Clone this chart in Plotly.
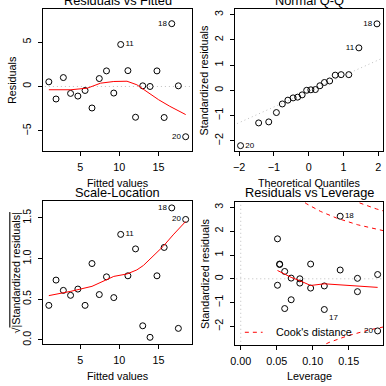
import numpy as np
import plotly.graph_objects as go

# ---------------- data ----------------
obs = list(range(1, 21))
fitted = [1.01, 1.93, 2.86, 3.78, 4.71, 5.63, 6.51, 7.44, 8.36, 9.29,
          10.17, 11.09, 12.06, 12.98, 13.91, 14.79, 15.71, 16.68, 17.52, 18.45]
residuals = [0.52, -1.41, 1.00, -0.78, -1.08, -0.45, -2.42, 0.89, 1.75, -0.74,
             4.72, 1.78, -3.46, 0.07, 0.00, 1.75, -3.49, 7.06, 0.07, -5.65]
std_resid = [0.18, -0.54, 0.37, -0.30, -0.39, -0.18, -0.88, 0.31, 0.60, -0.27,
             1.68, 0.62, -1.25, 0.03, 0.001, 0.62, -1.29, 2.63, 0.02, -2.19]
leverage = [0.190, 0.162, 0.138, 0.116, 0.097, 0.082, 0.070, 0.061, 0.054, 0.051,
            0.051, 0.054, 0.061, 0.070, 0.082, 0.097, 0.116, 0.138, 0.162, 0.190]
theo_quantiles = [-1.96, -1.44, -1.15, -0.93, -0.76, -0.60, -0.45, -0.32, -0.19, -0.06,
                  0.06, 0.19, 0.32, 0.45, 0.60, 0.76, 0.93, 1.15, 1.44, 1.96]

rvf_smooth_x = [1.01, 3.82, 5.92, 7.60, 9.29, 10.97, 12.23, 13.49, 15.00, 16.43, 18.45]
rvf_smooth_y = [-0.37, -0.37, -0.19, 0.37, 0.56, 0.59, 0.19, -0.56, -1.49, -2.23, -3.16]

sl_smooth_x = [1.01, 3.82, 6.51, 8.03, 9.29, 10.97, 12.23, 13.07, 14.33, 15.59, 16.85, 18.45]
sl_smooth_y = [0.544, 0.597, 0.658, 0.72, 0.78, 0.81, 0.86, 0.915, 1.03, 1.15, 1.29, 1.455]

lev_smooth_x = [0.051, 0.070, 0.082, 0.097, 0.116, 0.138, 0.162, 0.190]
lev_smooth_y = [0.35, 0.06, -0.08, -0.28, -0.21, -0.25, -0.29, -0.36]

qq_slope = 0.62
qq_intercept = -0.04

cook_levels = [0.5, 1.0]
n_params = 2

rvf_ids = {11: "middle right", 18: "middle left", 20: "middle left"}
qq_ids = {18: "middle left", 11: "middle left", 20: "middle right"}
sl_ids = {18: "middle left", 20: "middle left", 11: "middle right"}
lev_ids = {18: "middle right", 17: "bottom right", 20: "middle left"}

# ---------------- styling ----------------
W = H = 386
FONT = "Liberation Sans, Arial, Helvetica, sans-serif"
TS = 10.8
RED = "#FF0000"
GRAY = "#BEBEBE"


def px(x):
    return x / W


def py(y):
    return 1 - y / H


dom = {
    1: ([px(39), px(189)], [py(152), py(9.5)]),
    2: ([px(233), px(382.5)], [py(152), py(9.5)]),
    3: ([px(39), px(189)], [py(346), py(202)]),
    4: ([px(233), px(383)], [py(347), py(203)]),
}


def axis(domain, rng, vals, text, anchor, is_y=False):
    d = dict(domain=domain, range=rng, tickvals=vals, ticktext=text,
             showline=True, mirror=True, linecolor="black", linewidth=1,
             ticks="outside", ticklen=4, tickcolor="black", tickwidth=1,
             showgrid=False, zeroline=False, anchor=anchor,
             tickfont=dict(family=FONT, size=TS, color="black"))
    if is_y:
        d["tickangle"] = -90
        d["ticklabelstandoff"] = 3
    else:
        d["ticklabelstandoff"] = 2
    return d


fig = go.Figure()


def add_points(xs, ys, numbers, ids, xa, ya):
    text = [str(k) if k in ids else "" for k in numbers]
    pos = [ids.get(k, "middle right") for k in numbers]
    fig.add_trace(go.Scatter(
        x=xs, y=ys, mode="markers+text", text=text, textposition=pos,
        textfont=dict(family=FONT, size=8, color="black"),
        marker=dict(symbol="circle-open", size=6, color="black", line=dict(width=1)),
        xaxis=xa, yaxis=ya, showlegend=False, cliponaxis=False))


def add_line(xs, ys, xa, ya, color, dash="solid"):
    fig.add_trace(go.Scatter(x=xs, y=ys, mode="lines",
                             line=dict(color=color, width=1, dash=dash),
                             xaxis=xa, yaxis=ya, showlegend=False, hoverinfo="skip"))


# Panel 1: Residuals vs Fitted
add_line([0, 20], [0, 0], "x", "y", GRAY, "1px,3px")
add_points(fitted, residuals, obs, rvf_ids, "x", "y")
add_line(rvf_smooth_x, rvf_smooth_y, "x", "y", RED)

# Panel 2: Normal Q-Q
order = np.argsort(std_resid)
qq_y = [std_resid[i] for i in order]
qq_n = [obs[i] for i in order]
qx = [-3, 3]
add_line(qx, [qq_intercept + qq_slope * v for v in qx], "x2", "y2", GRAY, "1px,3px")
add_points(theo_quantiles, qq_y, qq_n, qq_ids, "x2", "y2")

# Panel 3: Scale-Location
sl_y = [float(np.sqrt(abs(v))) for v in std_resid]
add_points(fitted, sl_y, obs, sl_ids, "x3", "y3")
add_line(sl_smooth_x, sl_smooth_y, "x3", "y3", RED)

# Panel 4: Residuals vs Leverage
add_line([-1, 1], [0, 0], "x4", "y4", GRAY, "1px,3px")
add_line([0, 0], [-5, 5], "x4", "y4", GRAY, "1px,3px")
hh = np.linspace(0.002, 0.22, 200)
for lev in cook_levels:
    r = np.sqrt(lev * n_params * (1 - hh) / hh)
    add_line(hh, r, "x4", "y4", RED, "4px,4px")
    add_line(hh, -r, "x4", "y4", RED, "4px,4px")
add_points(leverage, std_resid, obs, lev_ids, "x4", "y4")
add_line(lev_smooth_x, lev_smooth_y, "x4", "y4", RED)

M = "\u2212"
fig.update_layout(
    width=W, height=H, margin=dict(l=0, r=0, t=0, b=0),
    paper_bgcolor="white", plot_bgcolor="white",
    font=dict(family=FONT, size=TS, color="black"),
    xaxis=axis(dom[1][0], [0.33, 19.2], [5, 10, 15], ["5", "10", "15"], "y"),
    yaxis=axis(dom[1][1], [-7.28, 8.66], [-5, 0, 5], [M + "5", "0", "5"], "x", True),
    xaxis2=axis(dom[2][0], [-2.12, 2.12], [-2, -1, 0, 1, 2],
                [M + "2", M + "1", "0", "1", "2"], "y2"),
    yaxis2=axis(dom[2][1], [-2.41, 3.2], [-2, -1, 0, 1, 2, 3],
                [M + "2", M + "1", "0", "1", "2", "3"], "x2", True),
    xaxis3=axis(dom[3][0], [0.33, 19.2], [5, 10, 15], ["5", "10", "15"], "y3"),
    yaxis3=axis(dom[3][1], [-0.053, 1.707], [0, 0.5, 1.0, 1.5],
                ["0.0", "0.5", "1.0", "1.5"], "x3", True),
    xaxis4=axis(dom[4][0], [-0.008, 0.1975], [0, 0.05, 0.10, 0.15],
                ["0.00", "0.05", "0.10", "0.15"], "y4"),
    yaxis4=axis(dom[4][1], [-2.79, 3.23], [-2, -1, 0, 1, 2, 3],
                [M + "2", M + "1", "0", "1", "2", "3"], "x4", True),
)

ann = []


def text(x, y, s, size=TS, angle=0, xanchor="center"):
    ann.append(dict(x=px(x), y=py(y), xref="paper", yref="paper", text=s,
                    showarrow=False, textangle=angle, xanchor=xanchor, yanchor="middle",
                    font=dict(family=FONT, size=size, color="black")))


TT = 12.8
text(114, 0, "Residuals vs Fitted", TT)
text(308, 0, "Normal Q-Q", TT)
text(114, 193.5, "Scale-Location", TT)
text(308, 193.5, "Residuals vs Leverage", TT)

text(114, 184, "Fitted values")
text(308, 184, "Theoretical Quantiles")
text(114, 378, "Fitted values")
text(308, 378, "Leverage")

text(7, 80.5, "Residuals", angle=-90)
text(202, 80.5, "Standardized residuals", angle=-90)
text(11, 274, "\u221a<span style='text-decoration:overline'>|Standardized residuals|</span>", angle=-90)
text(202, 275, "Standardized residuals", angle=-90)

text(273, 334, "Cook's distance", xanchor="left")
fig.update_layout(annotations=ann)
fig.add_shape(type="line", xref="paper", yref="paper", x0=px(243), x1=px(261),
              y0=py(334), y1=py(334), line=dict(color=RED, width=1, dash="4px,4px"))

fig.write_html("out.html", config={"displayModeBar": False, "staticPlot": True},
               post_script="document.body.style.margin='0';document.body.style.overflow='hidden';")
